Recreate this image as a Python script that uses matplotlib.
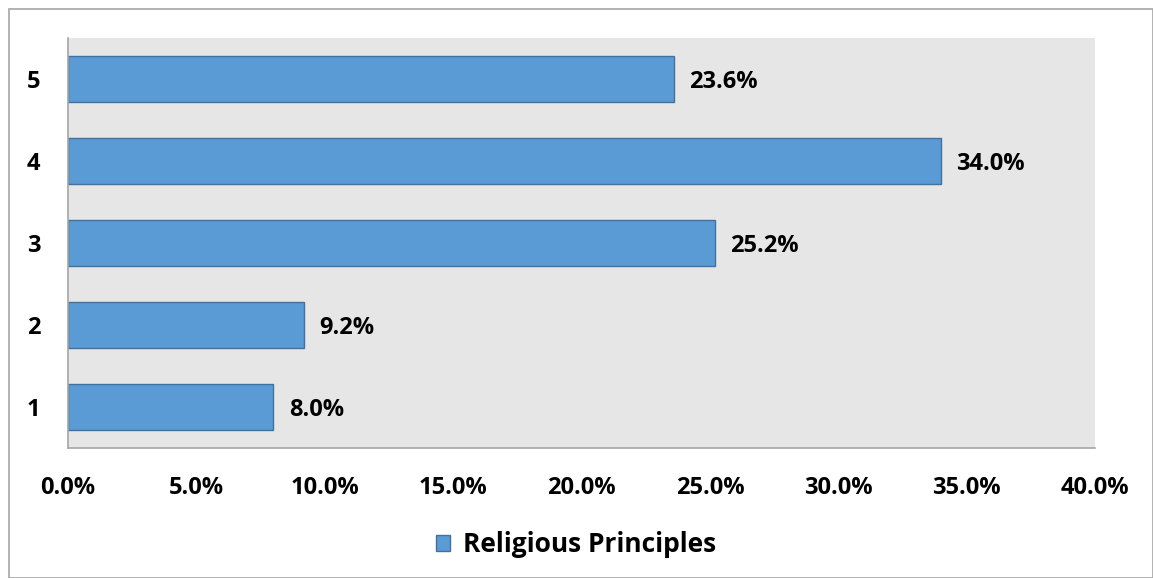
import matplotlib.pyplot as plt
from matplotlib.patches import Rectangle, Patch
from matplotlib.ticker import FuncFormatter

categories = ['1', '2', '3', '4', '5']
shares = [8.0, 9.2, 25.2, 34.0, 23.6]
series_name = 'Religious Principles'

plt.rcParams['font.family'] = ['Open Sans', 'DejaVu Sans']
plt.rcParams['font.weight'] = 'bold'
FS = 17

fig = plt.figure(figsize=(11.53, 5.78), dpi=100)
ax = fig.add_axes([68 / 1153, 1 - 448 / 578, (1095 - 68) / 1153, (448 - 38) / 578])
ax.set_facecolor('#e6e6e6')

ypos = list(range(1, len(categories) + 1))
ax.barh(ypos, shares, height=0.57, color='#5b9bd5', edgecolor='#41719c', linewidth=1)

for y, v in zip(ypos, shares):
    ax.text(v + 0.6, y - 0.04, f'{v:.1f}%', va='center', ha='left',
            fontsize=FS, fontweight='bold')

ax.set_xlim(0, 40)
ax.set_ylim(0.5, 5.5)
ax.set_xticks([0, 5, 10, 15, 20, 25, 30, 35, 40])
ax.xaxis.set_major_formatter(FuncFormatter(lambda v, p: f'{v:.1f}%'))
ax.set_yticks(ypos)
ax.set_yticklabels(categories)
ax.tick_params(axis='both', length=0, labelsize=FS)
ax.tick_params(axis='x', pad=20)
ax.tick_params(axis='y', pad=20)
for lbl in ax.get_xticklabels() + ax.get_yticklabels():
    lbl.set_fontweight('bold')

for side in ['top', 'right']:
    ax.spines[side].set_visible(False)
for side in ['left', 'bottom']:
    ax.spines[side].set_color('#a6a6a6')
    ax.spines[side].set_linewidth(1.2)

handle = Patch(facecolor='#5b9bd5', edgecolor='#41719c', label=series_name)
fig.legend(handles=[handle], loc='center', bbox_to_anchor=(576 / 1153, 1 - 545 / 578),
           frameon=False, prop={'size': 19, 'weight': 'bold'},
           handlelength=0.53, handleheight=0.53, handletextpad=0.5)

# outer chart frame
fig.patches.append(Rectangle((9 / 1153, 0.5 / 578), 1 - 9.5 / 1153, 1 - 9.5 / 578,
                             transform=fig.transFigure, fill=False,
                             edgecolor='#a6a6a6', linewidth=1.2))

fig.savefig('out.png', dpi=100)
